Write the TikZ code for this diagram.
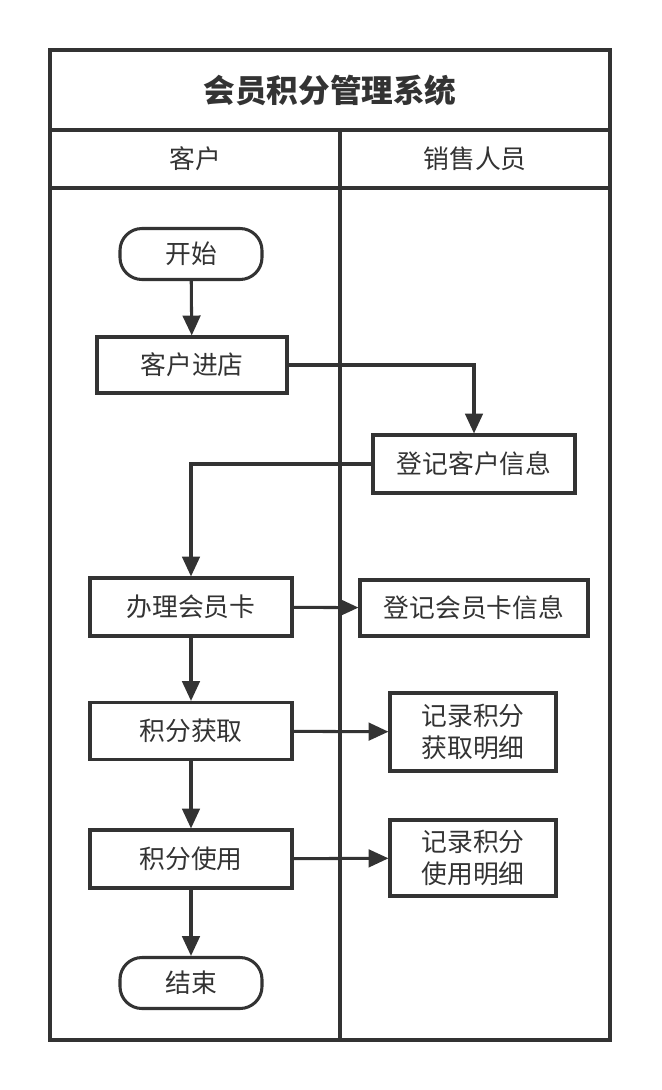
\documentclass[tikz,border=0pt]{standalone}
\usepackage{fontspec}
\setmainfont{Noto Sans CJK SC}
\usetikzlibrary{arrows.meta}
\definecolor{ink}{HTML}{333333}
\begin{document}
\begin{tikzpicture}[x=0.03cm,y=-0.03cm,
  lw/.style={line width=2.6pt,draw=ink},
  box/.style={lw,rectangle,minimum height=0.03cm*56,inner sep=0pt,font=\fontsize{22}{27}\selectfont,text=ink,align=center},
  term/.style={box,rounded corners=0.03cm*22,minimum width=0.03cm*142,minimum height=0.03cm*51},
  arr/.style={lw,-{Triangle[length=17pt,width=15pt]}}]
\useasboundingbox (0,0) rectangle (661,1090);
\draw[lw] (50,50) rectangle (610,1040);
\draw[lw] (50,130) -- (610,130);
\draw[lw] (50,188) -- (610,188);
\draw[lw] (340,130) -- (340,1040);
\node[font=\fontsize{27}{30}\selectfont\bfseries,text=ink] (title) at (330,90) {会员积分管理系统};
\node[font=\fontsize{22}{26}\selectfont,text=ink] (h1) at (195,159) {客户};
\node[font=\fontsize{22}{26}\selectfont,text=ink] (h2) at (475,159) {销售人员};
\node[term] (start) at (191,254) {开始};
\node[box,minimum width=0.03cm*190] (a) at (192,365) {客户进店};
\node[box,minimum width=0.03cm*202,minimum height=0.03cm*58] (b) at (474,464) {登记客户信息};
\node[box,minimum width=0.03cm*202,minimum height=0.03cm*58] (c) at (191,607) {办理会员卡};
\node[box,minimum width=0.03cm*228] (d) at (474,608) {登记会员卡信息};
\node[box,minimum width=0.03cm*202,minimum height=0.03cm*57] (e) at (191,731) {积分获取};
\node[box,minimum width=0.03cm*166,minimum height=0.03cm*78] (f) at (473,732) {记录积分\\获取明细};
\node[box,minimum width=0.03cm*202,minimum height=0.03cm*58] (g) at (191,859) {积分使用};
\node[box,minimum width=0.03cm*166,minimum height=0.03cm*76] (h) at (473,858) {记录积分\\使用明细};
\node[term] (end) at (191,983) {结束};
\draw[arr] (start) -- (a);
\draw[arr] (a.east) -| (b.north);
\draw[arr] (b.west) -| (c.north);
\draw[arr] (c) -- (d);
\draw[arr] (c) -- (e);
\draw[arr] (e) -- (f);
\draw[arr] (e) -- (g);
\draw[arr] (g) -- (h);
\draw[arr] (g) -- (end);
\end{tikzpicture}
\end{document}
